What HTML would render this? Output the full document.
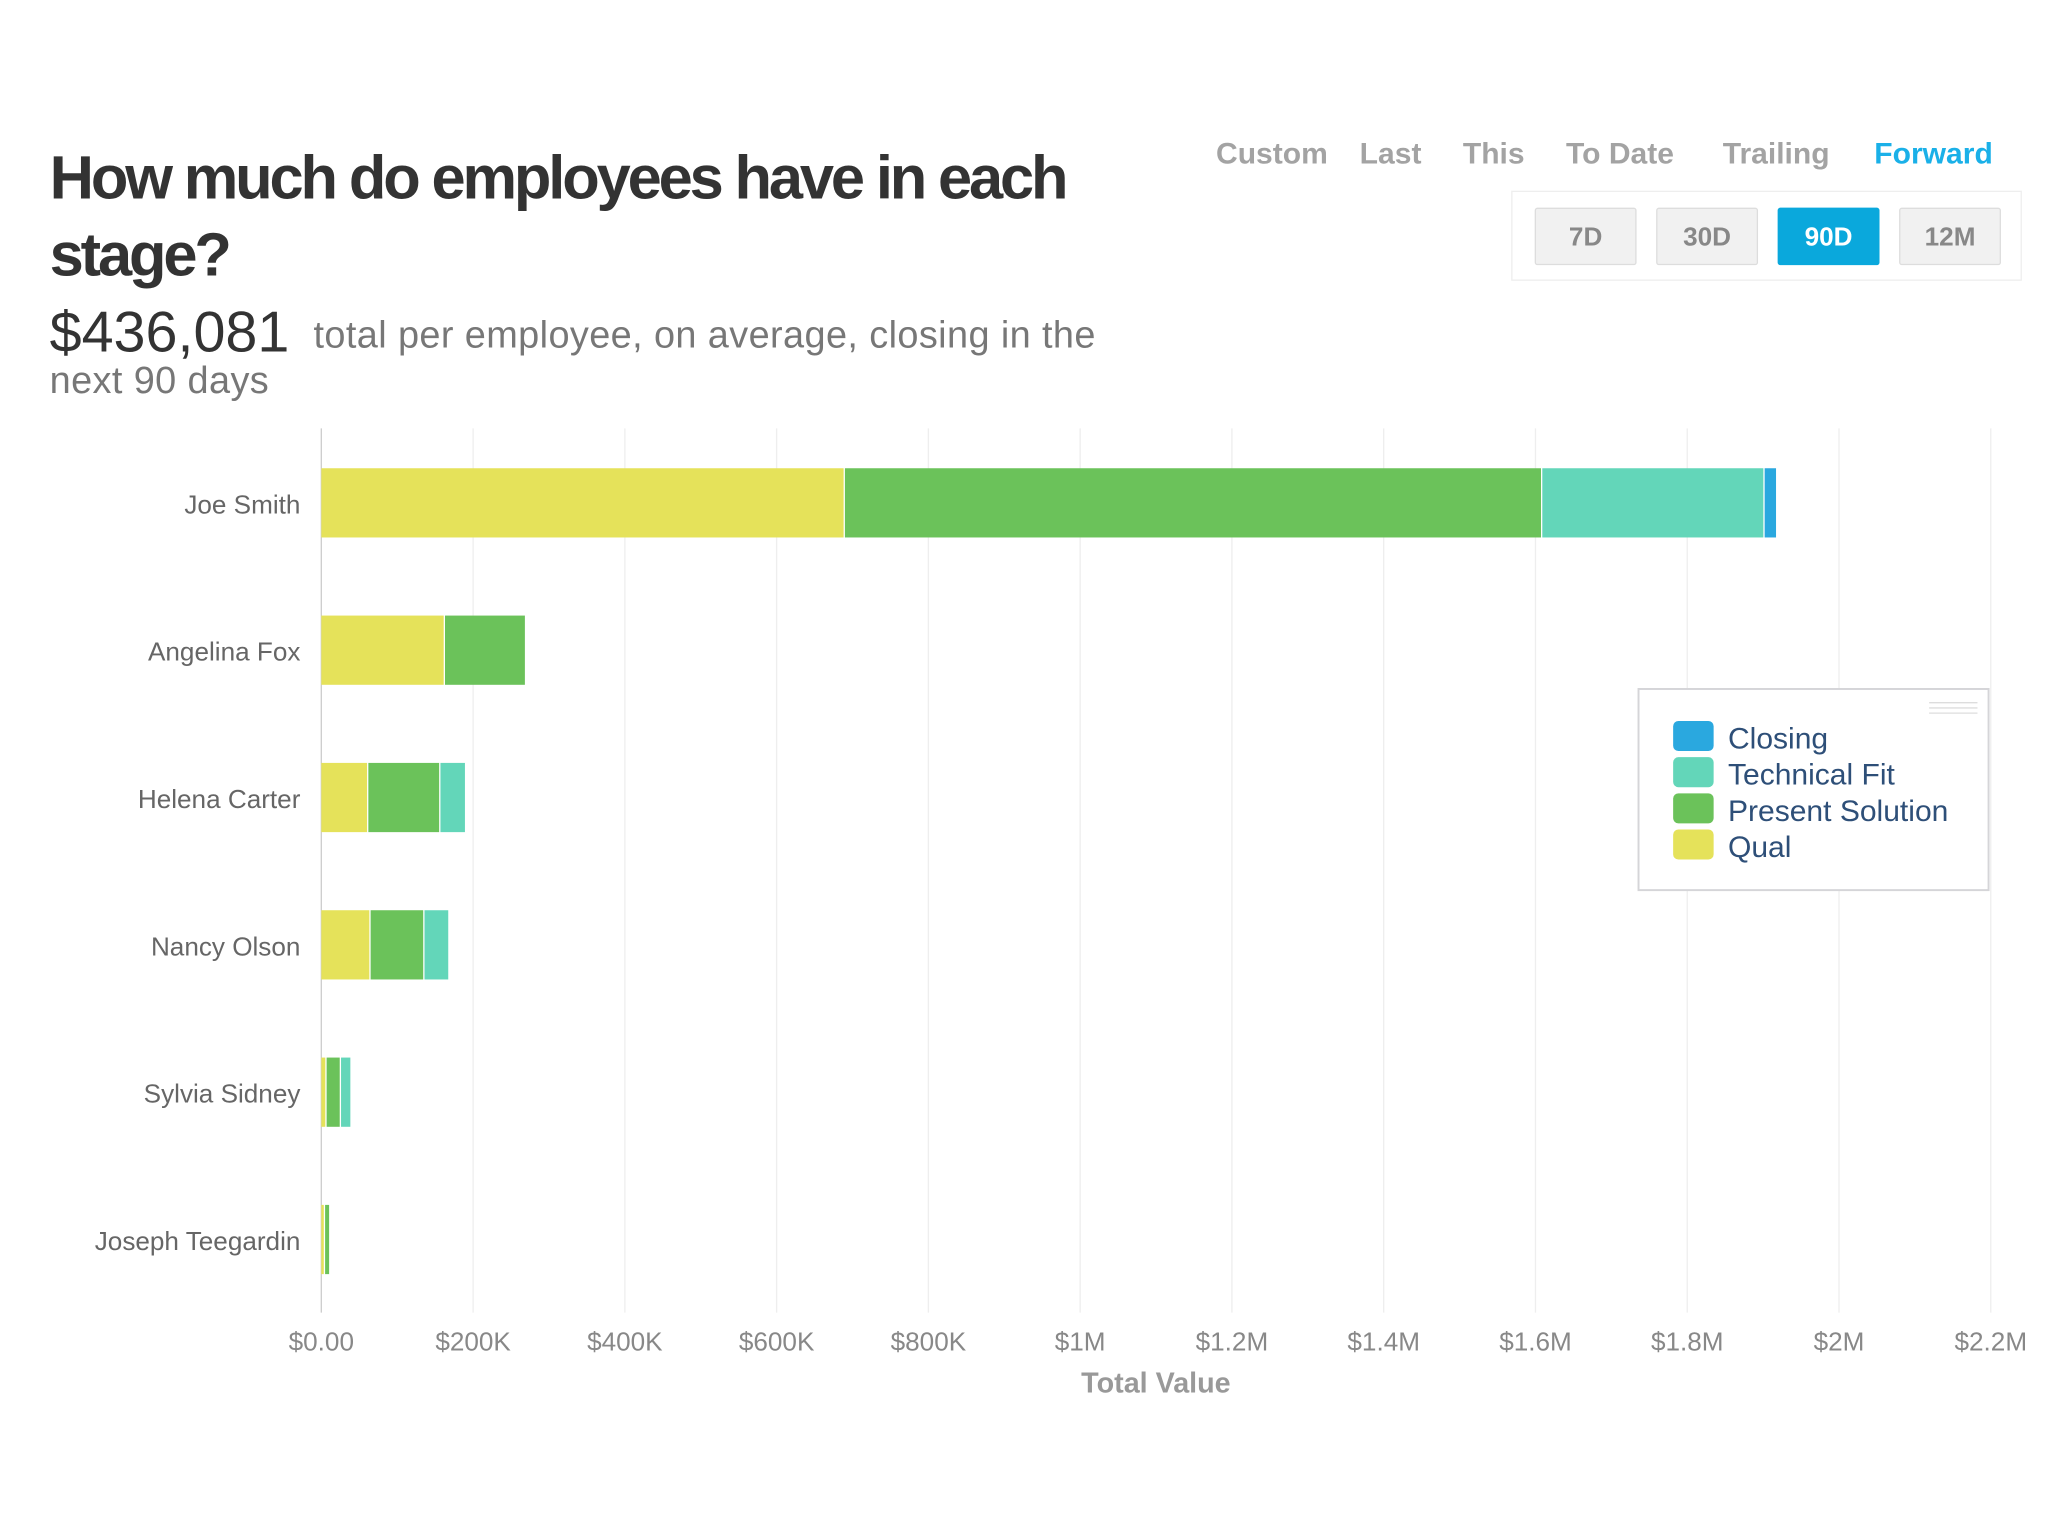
<!DOCTYPE html>
<html><head><meta charset="utf-8"><style>
html,body{margin:0;padding:0;background:#fff;width:2048px;height:1536px;overflow:hidden}
#wrap{position:absolute;left:0;top:0;width:1568px;height:1176px;transform:scale(1.306122);transform-origin:0 0;font-family:"Liberation Sans",sans-serif}
.abs{position:absolute;white-space:nowrap}
.tab{position:absolute;top:104px;font-size:23px;font-weight:bold;color:#a3a3a3}
.btn{position:absolute;top:159px;width:76px;height:42px;border:1px solid #ddd;background:#f1f1f1;color:#888;font-size:20px;font-weight:bold;text-align:center;line-height:44px;border-radius:2px}
</style></head><body>
<div id="wrap">
<div class="abs" style="left:38px;top:106px;font-size:47px;font-weight:bold;color:#333;letter-spacing:-2.4px;line-height:59px;white-space:normal;width:800px">How much do employees have in each stage?</div>
<div class="abs" style="left:38px;top:230px;font-size:44px;color:#333">$436,081</div>
<div class="abs" style="left:240px;top:241px;font-size:29px;letter-spacing:0.3px;color:#777">total per employee, on average, closing in the</div>
<div class="abs" style="left:38px;top:276px;font-size:29px;letter-spacing:0.3px;color:#777">next 90 days</div>

<div class="tab" style="left:931px">Custom</div>
<div class="tab" style="left:1041px">Last</div>
<div class="tab" style="left:1120px">This</div>
<div class="tab" style="left:1199px">To Date</div>
<div class="tab" style="left:1319px">Trailing</div>
<div class="tab" style="left:1435px;color:#1ab0e8">Forward</div>
<div class="abs" style="left:1157px;top:146px;width:389px;height:67px;border:1px solid #eee"></div>
<div class="btn" style="left:1175px">7D</div>
<div class="btn" style="left:1268px">30D</div>
<div class="btn" style="left:1361px;background:#0aa8dc;border-color:#0aa8dc;color:#fff">90D</div>
<div class="btn" style="left:1454px">12M</div>

<svg id="chart" width="1568" height="1176" style="position:absolute;left:0;top:0" font-family="Liberation Sans, sans-serif"></svg>
</div>
<script>
const employees=["Joe Smith","Angelina Fox","Helena Carter","Nancy Olson","Sylvia Sidney","Joseph Teegardin"];
const qual=[690000,163000,62000,65000,7000,5000];
const present=[919000,107000,95000,71000,19000,7000];
const technical=[293000,0,34000,33000,14000,0];
const closing=[15000,0,0,0,0,0];
const tickValues=[0,200000,400000,600000,800000,1000000,1200000,1400000,1600000,1800000,2000000,2200000];
const tickLabels=["$0.00","$200K","$400K","$600K","$800K","$1M","$1.2M","$1.4M","$1.6M","$1.8M","$2M","$2.2M"];
const legendLabels=["Closing","Technical Fit","Present Solution","Qual"];

const NS="http://www.w3.org/2000/svg";
const svg=document.getElementById('chart');
const X0=246,PXPER=116.2/200000,TOP=328,BOT=1005,ROWH=112.8;
const xs=v=>X0+v*PXPER;
const yc=i=>385+i*ROWH;
function mk(t,a){const e=document.createElementNS(NS,t);for(const k in a)e.setAttribute(k,a[k]);svg.appendChild(e);return e;}
tickValues.forEach((v,i)=>{
  const l=mk('line',{x1:xs(v),x2:xs(v),y1:TOP,y2:BOT,stroke:i==0?'#ccc':'#eee','stroke-width':1});
  
  
  const t=mk('text',{x:xs(v),y:1034,'text-anchor':'middle','font-size':20,fill:'#888'});
  t.textContent=tickLabels[i];
  
  
});
const at=mk('text',{x:885,y:1066,'text-anchor':'middle','font-size':22,'font-weight':'bold',fill:'#999'});
at.textContent='Total Value';


const series=[[qual,'#e5e25a','qual'],[present,'#6bc25a','present-solution'],[technical,'#63d6b9','technical-fit'],[closing,'#2aa8df','closing']];
employees.forEach((n,i)=>{
  const t=mk('text',{x:230,y:yc(i)+8,'text-anchor':'end','font-size':20,fill:'#666'});
  t.textContent=n;
  
  
  let acc=0;
  series.forEach(s=>{
    const v=s[0][i];if(!v)return;
    const r=mk('rect',{x:xs(acc),y:yc(i)-26.5,width:Math.max(0,xs(acc+v)-xs(acc)-(s[2]==='closing'?0:1)),height:53,fill:s[1]});
    
    
    acc+=v;
  });
});
const lb=mk('rect',{x:1254.5,y:527.5,width:268,height:154,fill:'#fff',stroke:'#d5d5d8','stroke-width':1.5});


[0,1,2].forEach(k=>{const h=mk('line',{x1:1477,x2:1514,y1:538+k*4,y2:538+k*4,stroke:'#ddd'});});
const lc=['#2aa8df','#63d6b9','#6bc25a','#e5e25a'];
legendLabels.forEach((n,k)=>{
  const r=mk('rect',{x:1281,y:552+k*27.7,width:31,height:23,rx:4,fill:lc[k]});
  
  
  const t=mk('text',{x:1323,y:573+k*27.7,'font-size':23,fill:'#2e4f78'});
  t.textContent=n;
  
  
});
</script>
</body></html>
